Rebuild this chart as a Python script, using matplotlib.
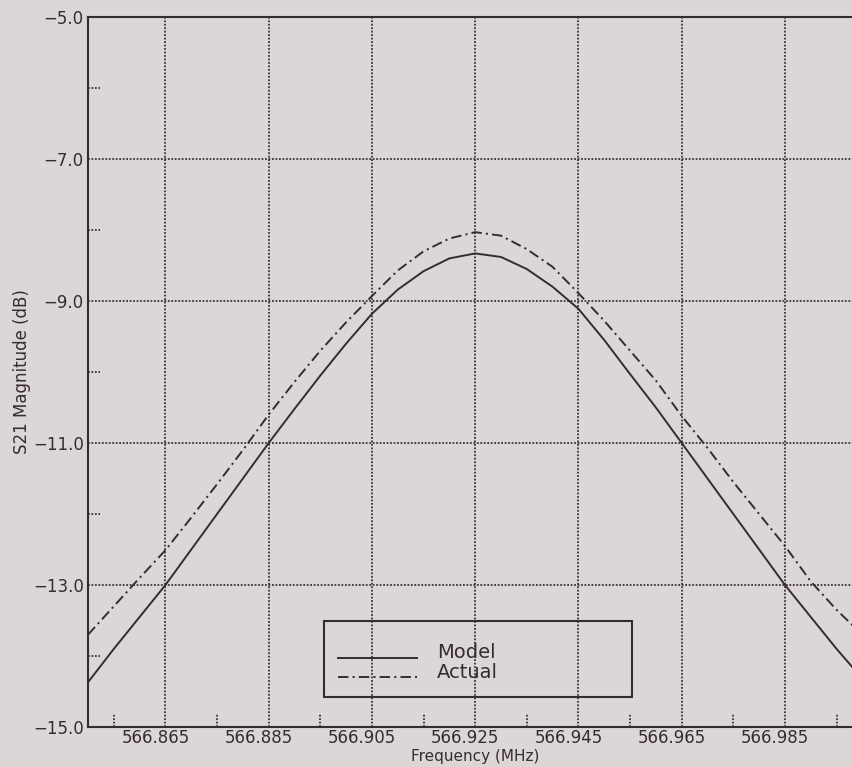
import matplotlib
matplotlib.use("Agg")
import matplotlib.pyplot as plt
from matplotlib.transforms import ScaledTranslation, blended_transform_factory
from matplotlib.patches import Rectangle
from matplotlib.lines import Line2D

# Frequency sweep (MHz) and measured / modelled S21 magnitude (dB)
freq_mhz = [566.850, 566.855, 566.860, 566.865, 566.870, 566.875, 566.880,
            566.885, 566.890, 566.895, 566.900, 566.905, 566.910, 566.915,
            566.920, 566.925, 566.930, 566.935, 566.940, 566.945, 566.950,
            566.955, 566.960, 566.965, 566.970, 566.975, 566.980, 566.985,
            566.990, 566.995, 567.000]
model_db = [-14.37, -13.90, -13.45, -13.00, -12.50, -12.00, -11.50,
            -11.00, -10.52, -10.05, -9.60, -9.18, -8.84, -8.58,
            -8.40, -8.33, -8.38, -8.55, -8.80, -9.11, -9.55,
            -10.03, -10.50, -11.00, -11.50, -12.00, -12.50, -13.00,
            -13.45, -13.90, -14.32]
actual_db = [-13.70, -13.30, -12.90, -12.51, -12.05, -11.58, -11.10,
             -10.60, -10.14, -9.70, -9.30, -8.93, -8.57, -8.30,
             -8.12, -8.03, -8.08, -8.27, -8.52, -8.89, -9.28,
             -9.70, -10.12, -10.62, -11.07, -11.55, -12.00, -12.45,
             -12.95, -13.35, -13.70]

x_major = [566.865, 566.885, 566.905, 566.925, 566.945, 566.965, 566.985]
x_major_labels = ["566.865", "566.885", "566.905", "566.925",
                  "566.945", "566.965", "566.985"]
x_minor = [566.855, 566.875, 566.895, 566.915, 566.935, 566.955, 566.975, 566.995]
y_major = [-5.0, -7.0, -9.0, -11.0, -13.0, -15.0]
y_major_labels = ["\u22125.0", "\u22127.0", "\u22129.0", "\u221211.0",
                  "\u221213.0", "\u221215.0"]
y_minor = [-6.0, -8.0, -10.0, -12.0, -14.0]
series_names = ["Model", "Actual"]

plt.rcParams["lines.scale_dashes"] = False
plt.rcParams["font.family"] = ["DejaVu Sans"]

paper = "#ddd6d6"
ink = "#352d2d"

fig = plt.figure(figsize=(8.53, 7.67), dpi=100, facecolor=paper)
ax = fig.add_axes([88 / 853, 40 / 767, 774.4 / 853, 710 / 767])
ax.set_facecolor(paper)
ax.set_xlim(566.850, 567.000)
ax.set_ylim(-15.0, -5.0)

dotted = (0, (1.3, 1.2))

# dotted grid at the labelled positions
for xv in x_major:
    ax.axvline(xv, color=ink, lw=1.25, ls=dotted, zorder=1)
for yv in y_major[1:-1]:
    ax.axhline(yv, color=ink, lw=1.25, ls=dotted, zorder=1)

# short dotted stubs for the minor divisions
bx = blended_transform_factory(ax.transData, ax.transAxes)
by = blended_transform_factory(ax.transAxes, ax.transData)
for xv in x_minor:
    ax.plot([xv, xv], [0, 0.018], transform=bx, color=ink, lw=1.25,
            ls=dotted, clip_on=False, zorder=1)
for yv in y_minor:
    ax.plot([0, 0.0155], [yv, yv], transform=by, color=ink, lw=1.25,
            ls=dotted, clip_on=False, zorder=1)

# curves
dashdot = (0, (7.5, 3.0, 1.5, 3.0))
ax.plot(freq_mhz, model_db, color=ink, lw=1.4, ls="-", zorder=3,
        label=series_names[0])
ax.plot(freq_mhz, actual_db, color=ink, lw=1.4, ls=dashdot, zorder=3,
        label=series_names[1])

# axes frame
for side in ("left", "bottom", "top"):
    ax.spines[side].set_color(ink)
    ax.spines[side].set_linewidth(1.5)
ax.spines["right"].set_visible(False)

ax.set_xticks(x_major)
ax.set_xticklabels(x_major_labels)
ax.set_yticks(y_major)
ax.set_yticklabels(y_major_labels)
ax.tick_params(axis="both", length=0, labelsize=12, colors=ink)
ax.tick_params(axis="x", pad=1.5)
ax.tick_params(axis="y", pad=3)
shift = ScaledTranslation(-10 / 100, 0, fig.dpi_scale_trans)
for lab in ax.get_xticklabels():
    lab.set_transform(lab.get_transform() + shift)

ax.set_xlabel("Frequency (MHz)", fontsize=11, color=ink)
ax.xaxis.set_label_coords(0.5, -0.0315)
ax.set_ylabel("S21 Magnitude (dB)", fontsize=12, color=ink)
ax.yaxis.set_label_coords(-0.074, 0.5)

# legend box
ax.add_patch(Rectangle((0.305, 0.0423), 0.398, 0.107, transform=ax.transAxes,
                       fill=False, edgecolor=ink, lw=1.5, zorder=4))
handles = [Line2D([], [], color=ink, lw=1.4, ls="-"),
           Line2D([], [], color=ink, lw=1.4, ls=dashdot)]
leg = ax.legend(handles, series_names, loc="center left",
                bbox_to_anchor=(0.323, 0.082), frameon=False, fontsize=14,
                handlelength=4.06, handletextpad=1.03, labelspacing=0.03,
                borderpad=0, borderaxespad=0)
for t in leg.get_texts():
    t.set_color(ink)
    # lift each label a little above its key line
    t.set_position((0, 6))

fig.savefig("out.png", dpi=100, facecolor=paper)
